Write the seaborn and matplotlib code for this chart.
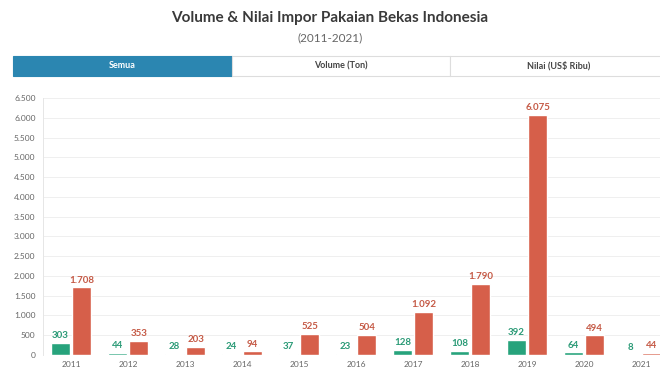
import pandas as pd
import matplotlib
matplotlib.use("Agg")
import matplotlib.pyplot as plt
import seaborn as sns
from matplotlib.patches import Rectangle
from matplotlib.ticker import FuncFormatter

# data
years = ["2011", "2012", "2013", "2014", "2015", "2016", "2017", "2018", "2019", "2020", "2021"]
volume_ton = [303, 44, 28, 24, 37, 23, 128, 108, 392, 64, 8]
nilai_ribu = [1708, 353, 203, 94, 525, 504, 1092, 1790, 6075, 494, 44]
series_names = ["Volume (Ton)", "Nilai (US$ Ribu)"]
tab_labels = ["Semua", "Volume (Ton)", "Nilai (US$ Ribu)"]

GREEN = "#27a37c"
RED = "#d65f4a"
BLUE = "#2b86b1"


def dot_fmt(v):
    return f"{int(round(v)):,}".replace(",", ".")


df = pd.DataFrame({
    "tahun": years * 2,
    "nilai": volume_ton + nilai_ribu,
    "seri": [series_names[0]] * len(years) + [series_names[1]] * len(years),
})

sns.set_theme(style="white")
plt.rcParams["font.family"] = ["Lato", "DejaVu Sans"]

fig = plt.figure(figsize=(6.6, 3.71), dpi=100)
ax = fig.add_axes([0.0644, 0.0431, 0.95, 0.6927])

sns.barplot(data=df, x="tahun", y="nilai", hue="seri", order=years,
            hue_order=series_names, palette=[GREEN, RED],
            width=0.75, gap=0.1, saturation=1, legend=False, ax=ax)

for cont, col in zip(ax.containers, ["#2a9a76", "#c55a46"]):
    ax.bar_label(cont, labels=[dot_fmt(b.get_height()) for b in cont],
                 color=col, fontsize=7, fontweight="bold", padding=2)

ax.set_xlim(-0.5, 10.5)
ax.set_ylim(0, 6500)
ax.set_yticks(range(0, 6501, 500))
ax.yaxis.set_major_formatter(FuncFormatter(lambda v, p: dot_fmt(v)))
ax.grid(axis="y", color="#efefef", linewidth=0.7)
ax.set_axisbelow(True)
ax.set_xlabel("")
ax.set_ylabel("")
ax.tick_params(axis="both", length=0, labelsize=6, labelcolor="#666666")
ax.tick_params(axis="x", pad=4)
ax.tick_params(axis="y", pad=5)
for side in ["top", "right", "bottom"]:
    ax.spines[side].set_visible(False)
ax.spines["left"].set_color("#e6e6e6")
ax.spines["left"].set_linewidth(0.7)

# title
fig.text(0.5, 0.951, "Volume & Nilai Impor Pakaian Bekas Indonesia",
         ha="center", va="center", fontsize=11, fontweight="bold", color="#3a3a3a")
fig.text(0.5, 0.898, "(2011-2021)", ha="center", va="center",
         fontsize=8.5, color="#666666")

# tab buttons
tab_edges = [13, 232, 450, 668]
y0, y1 = 1 - 76 / 371, 1 - 56 / 371
for i, lab in enumerate(tab_labels):
    x0 = tab_edges[i] / 660
    w = (tab_edges[i + 1] - tab_edges[i]) / 660
    active = i == 0
    fig.add_artist(Rectangle((x0, y0), w, y1 - y0, transform=fig.transFigure,
                             facecolor=BLUE if active else "white",
                             edgecolor=BLUE if active else "#dddddd", linewidth=0.8))
    fig.text(x0 + w / 2, (y0 + y1) / 2, lab, ha="center", va="center",
             fontsize=6.5, fontweight="bold", color="white" if active else "#444444")

fig.savefig("out.png", dpi=100)
